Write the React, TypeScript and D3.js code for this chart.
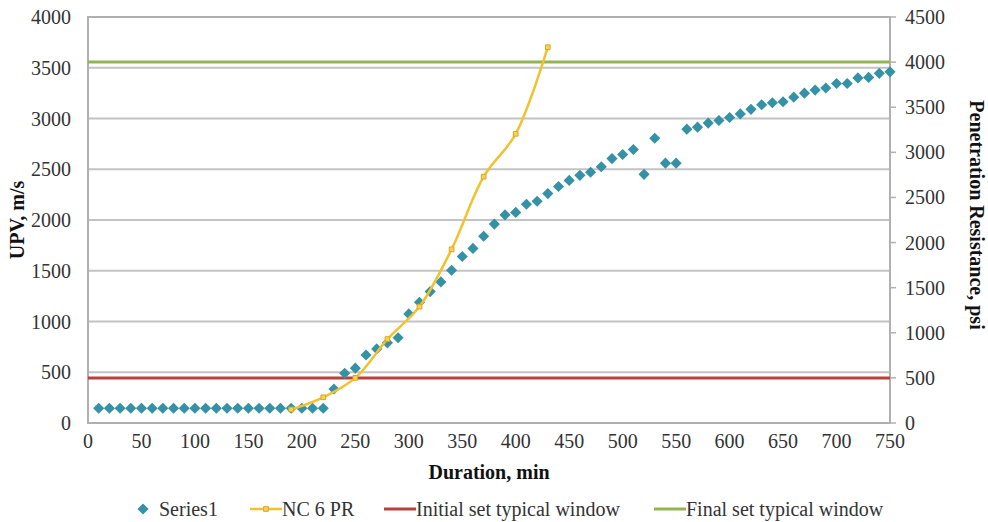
import * as d3 from "d3";

// Series1 (UPV, m/s) against duration (min)
const upvMinutes = [
  10, 20, 30, 40, 50, 60, 70, 80, 90, 100, 110, 120, 130, 140, 150, 160, 170, 180, 190, 200,
  210, 220, 230, 240, 250, 260, 270, 280, 290, 300, 310, 320, 330, 340, 350, 360, 370, 380,
  390, 400, 410, 420, 430, 440, 450, 460, 470, 480, 490, 500, 510, 520, 530, 540, 550, 560,
  570, 580, 590, 600, 610, 620, 630, 640, 650, 660, 670, 680, 690, 700, 710, 720, 730, 740, 750,
];
const upvValues = [
  145, 145, 145, 145, 145, 145, 145, 145, 145, 145, 145, 145, 145, 145, 145, 145, 145, 145, 145, 145,
  145, 145, 335, 490, 540, 670, 730, 790, 840, 1075, 1190, 1295, 1390, 1505, 1640, 1720, 1840, 1960,
  2050, 2075, 2155, 2185, 2260, 2330, 2390, 2440, 2470, 2525, 2605, 2645, 2695, 2450, 2805, 2560, 2560, 2895,
  2915, 2955, 2980, 3010, 3045, 3090, 3135, 3155, 3165, 3210, 3250, 3280, 3300, 3345, 3345, 3400, 3405, 3445, 3460,
];

// NC 6 PR (penetration resistance, psi)
const prMinutes = [190, 220, 250, 280, 310, 340, 370, 400, 430];
const prValues = [150, 285, 500, 930, 1290, 1925, 2730, 3205, 4165];

// set windows (psi)
const initialSet = 500;
const finalSet = 4000;

const xTicks = [0, 50, 100, 150, 200, 250, 300, 350, 400, 450, 500, 550, 600, 650, 700, 750];
const leftTicks = [0, 500, 1000, 1500, 2000, 2500, 3000, 3500, 4000];
const rightTicks = [0, 500, 1000, 1500, 2000, 2500, 3000, 3500, 4000, 4500];

const legendLabels = ["Series1", "NC 6 PR", "Initial set typical window", "Final set typical window"];

const W = 988;
const H = 522;
const left = 88;
const right = 890;
const top = 17;
const bottom = 423;

const TEAL = "#3592a6";
const GOLD = "#f2c12e";
const RED = "#b8403d";
const GREEN = "#93b452";
const FONT = '"Liberation Serif", "Times New Roman", "DejaVu Serif", serif';

export default function App() {
  const x = d3.scaleLinear().domain([0, 750]).range([left, right]);
  const yL = d3.scaleLinear().domain([0, 4000]).range([bottom, top]);
  const yR = d3.scaleLinear().domain([0, 4500]).range([bottom, top]);

  const diamond = d3.symbol(d3.symbolSquare, 62)()!;
  const square = d3.symbol(d3.symbolSquare, 22)()!;

  const prLine = d3
    .line<number>()
    .x((_, i) => x(prMinutes[i]))
    .y((d) => yR(d))
    .curve(d3.curveCatmullRom.alpha(0.5));

  const legendY = 509;

  return (
    <svg
      width={W}
      height={H}
      style={{ position: "absolute", left: 0, top: 0, background: "#fff", fontFamily: FONT, fontSize: 20 }}
    >
      {/* gridlines */}
      {leftTicks.map((t) => (
        <line key={"g" + t} x1={left} x2={right} y1={yL(t)} y2={yL(t)} stroke="#c3c3c3" strokeWidth={2} />
      ))}
      {/* plot border */}
      <rect x={left} y={top} width={right - left} height={bottom - top} fill="none" stroke="#b0b0b0" strokeWidth={2} />

      {/* right axis ticks */}
      {rightTicks.map((t) => (
        <line key={"rt" + t} x1={right} x2={right + 6} y1={yR(t)} y2={yR(t)} stroke="#b0b0b0" strokeWidth={1.5} />
      ))}

      {/* set windows */}
      <line x1={left} x2={right} y1={yR(initialSet)} y2={yR(initialSet)} stroke={RED} strokeWidth={3} />
      <line x1={left} x2={right} y1={yR(finalSet)} y2={yR(finalSet)} stroke={GREEN} strokeWidth={3} />

      {/* Series1 diamonds */}
      {upvValues.map((v, i) => (
        <path
          key={"u" + i}
          d={diamond}
          transform={`translate(${x(upvMinutes[i])},${yL(v)}) rotate(45)`}
          fill={TEAL}
        />
      ))}

      {/* NC 6 PR */}
      <path d={prLine(prValues)!} fill="none" stroke={GOLD} strokeWidth={2.5} />
      {prValues.map((v, i) => (
        <path
          key={"p" + i}
          d={square}
          transform={`translate(${x(prMinutes[i])},${yR(v)})`}
          fill="#f6d25a"
          stroke="#d9a91c"
          strokeWidth={1}
        />
      ))}

      {/* axis labels */}
      {xTicks.map((t) => (
        <text key={"xt" + t} x={x(t)} y={441} dy="0.35em" textAnchor="middle" fill="#333">
          {t}
        </text>
      ))}
      {leftTicks.map((t) => (
        <text key={"lt" + t} x={71} y={yL(t)} dy="0.35em" textAnchor="end" fill="#333">
          {t}
        </text>
      ))}
      {rightTicks.map((t) => (
        <text key={"rl" + t} x={905} y={yR(t)} dy="0.35em" textAnchor="start" fill="#333">
          {t}
        </text>
      ))}

      {/* titles */}
      <text x={(left + right) / 2} y={472} dy="0.35em" textAnchor="middle" fontWeight="bold" fill="#111">
        Duration, min
      </text>
      <text
        transform={`translate(17,${(top + bottom) / 2}) rotate(-90)`}
        dy="0.35em"
        textAnchor="middle"
        fontWeight="bold"
        fill="#111"
      >
        UPV, m/s
      </text>
      <text
        transform={`translate(977,${(top + bottom) / 2 - 5}) rotate(90)`}
        dy="0.35em"
        textAnchor="middle"
        fontWeight="bold"
        fill="#111"
      >
        Penetration Resistance, psi
      </text>

      {/* legend */}
      <path d={diamond} transform={`translate(143,${legendY}) rotate(45)`} fill={TEAL} />
      <text x={159} y={legendY} dy="0.35em" fill="#333">{legendLabels[0]}</text>

      <line x1={250} x2={282} y1={legendY} y2={legendY} stroke={GOLD} strokeWidth={2.5} />
      <path d={square} transform={`translate(266,${legendY})`} fill="#f6d25a" stroke="#d9a91c" strokeWidth={1} />
      <text x={282} y={legendY} dy="0.35em" fill="#333">{legendLabels[1]}</text>

      <line x1={384} x2={416} y1={legendY} y2={legendY} stroke={RED} strokeWidth={3} />
      <text x={416} y={legendY} dy="0.35em" fill="#333">{legendLabels[2]}</text>

      <line x1={654} x2={686} y1={legendY} y2={legendY} stroke={GREEN} strokeWidth={3} />
      <text x={686} y={legendY} dy="0.35em" fill="#333">{legendLabels[3]}</text>
    </svg>
  );
}
